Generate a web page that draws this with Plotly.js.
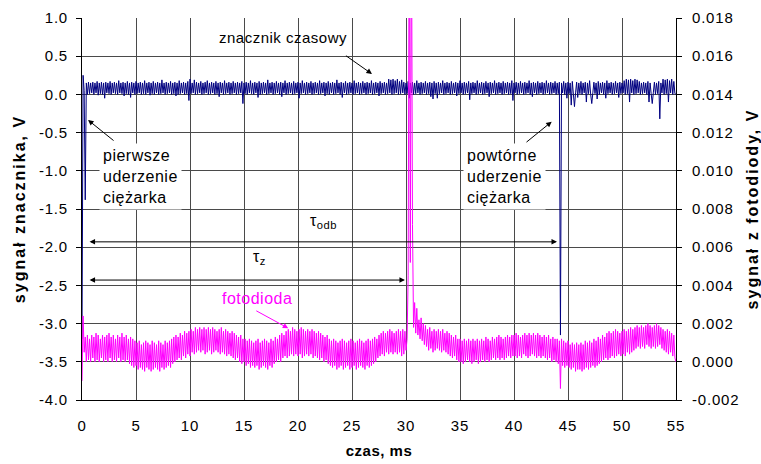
<!DOCTYPE html>
<html>
<head>
<meta charset="utf-8">
<script src="https://cdn.plot.ly/plotly-3.0.1.min.js"></script>
<style>
html,body{margin:0;padding:0;background:#fff;}
#chart{width:761px;height:464px;}
.xtick text, .ytick text, .y2tick text { letter-spacing: 0.8px; }
.ytitle, .y2title { letter-spacing: 2px; }
.xtitle { letter-spacing: 0.5px; }
.annotation-text { letter-spacing: 0.5px; }
</style>
</head>
<body>
<div id="chart"></div>
<script>
// sampling step of the recorded signals (ms)
const sampleStep = 0.1;

// time-marker signal, V (left axis), one row per ms
const znacznik = [
-3.2,0.25,0.05,-1.38,0.15,0.0,0.16,0.01,0.15,0.02,
0.16,0.0,0.15,0.02,0.17,-0.01,0.15,0.01,0.16,0.0,
0.15,-0.05,0.16,0.02,0.15,0.01,0.17,0.0,0.15,0.02,
0.16,0.01,0.15,0.0,0.18,0.02,0.15,0.01,0.16,-0.02,
0.15,0.01,0.17,0.0,0.15,-0.04,0.16,0.02,0.15,0.0,
0.17,0.01,0.15,0.02,0.16,0.0,0.15,0.01,0.18,0.0,
0.15,0.02,0.16,-0.01,0.15,0.01,0.17,0.0,0.15,0.02,
0.16,0.0,0.15,0.01,0.19,0.02,0.15,0.0,0.16,0.01,
0.15,0.02,0.17,0.0,0.15,0.01,0.16,-0.02,0.15,0.0,
0.18,0.01,0.15,0.02,0.16,0.0,0.15,0.01,0.17,-0.08,
0.2,0.01,0.15,0.02,0.19,0.0,0.16,0.01,0.15,0.02,
0.17,0.0,0.15,0.01,0.16,0.02,0.18,0.0,0.15,0.01,
0.16,0.02,0.15,0.0,0.17,0.01,0.15,-0.03,0.16,0.02,
0.15,0.0,0.18,0.01,0.15,0.02,0.16,0.0,0.15,0.01,
0.17,0.02,0.15,0.0,0.16,0.01,0.15,0.02,0.17,-0.12,
0.15,0.01,0.16,0.0,0.15,0.02,0.18,0.01,0.15,0.0,
0.16,0.02,0.15,-0.04,0.17,0.0,0.15,0.01,0.16,0.02,
0.15,0.0,0.19,0.01,0.15,0.02,0.16,0.0,0.15,0.01,
0.17,0.02,0.15,0.0,0.16,-0.03,0.15,0.02,0.18,0.0,
0.15,0.01,0.16,0.02,0.15,0.0,0.17,0.01,0.15,0.02,
0.16,-0.05,0.15,0.01,0.18,0.02,0.15,0.0,0.16,0.01,
0.15,0.02,0.17,0.0,0.15,0.01,0.16,0.02,0.15,0.0,
0.18,0.01,0.15,0.02,0.16,-0.02,0.15,0.01,0.17,0.0,
0.15,0.02,0.16,0.0,0.15,0.01,0.19,0.02,0.15,0.0,
0.16,-0.04,0.15,0.02,0.17,0.0,0.15,0.01,0.16,0.02,
0.15,0.0,0.18,0.01,0.15,0.02,0.16,0.0,0.15,0.01,
0.17,0.02,0.15,0.0,0.16,0.01,0.15,0.02,0.18,0.0,
0.15,0.01,0.16,0.02,0.15,-0.02,0.17,0.01,0.15,0.02,
0.16,0.0,0.15,0.01,0.2,0.02,0.19,0.0,0.2,0.01,
0.18,0.02,0.2,0.0,0.17,0.01,0.19,0.02,0.16,0.0,
0.15,0.01,0.17,-0.05,0.15,0.02,0.16,0.0,0.15,0.01,
0.18,0.02,0.15,0.0,0.16,0.01,0.15,0.02,0.17,0.0,
0.15,0.01,0.16,-0.03,0.15,-0.06,0.17,0.01,0.15,-0.05,
0.16,0.01,0.15,0.02,0.18,0.0,0.15,0.01,0.16,0.02,
0.15,0.0,0.17,0.01,0.15,0.02,0.16,-0.02,0.15,0.01,
0.18,0.02,0.15,0.0,0.16,0.01,0.15,0.02,0.17,-0.07,
0.15,0.01,0.16,0.02,0.15,0.0,0.18,0.01,0.15,0.02,
0.16,0.0,0.15,0.01,0.17,0.02,0.15,-0.03,0.16,0.01,
0.15,0.02,0.18,0.0,0.15,0.01,0.16,0.02,0.15,0.0,
0.17,0.01,0.15,0.02,0.16,0.0,0.15,0.01,0.18,-0.08,
0.15,0.02,0.16,0.0,0.15,0.01,0.17,0.02,0.15,0.0,
0.16,0.01,0.15,0.02,0.18,0.0,0.15,-0.03,0.16,0.02,
0.15,0.0,0.17,0.01,0.15,0.02,0.16,0.0,0.15,0.01,
0.18,0.02,0.15,0.0,0.16,0.01,0.15,0.02,0.17,0.0,
0.15,0.01,0.16,-3.15,0.15,0.02,0.17,0.0,0.15,-0.05,
0.16,0.01,0.15,-0.14,0.17,0.0,-0.16,0.02,0.16,-0.04,
0.15,0.01,0.17,0.0,0.15,0.02,0.16,-0.1,0.15,0.01,
0.18,0.0,-0.12,0.02,0.16,0.01,0.15,-0.06,0.17,0.0,
0.15,0.02,0.16,0.0,0.15,-0.05,0.18,0.01,0.15,0.02,
0.16,0.0,0.15,0.01,0.17,0.02,0.15,-0.04,0.16,0.01,
0.15,0.02,0.18,0.0,0.2,0.01,0.19,-0.1,0.2,0.02,
0.18,0.0,0.2,0.01,0.19,0.02,0.17,0.0,0.15,0.01,
0.16,0.02,0.15,0.0,0.17,-0.1,0.15,0.01,-0.12,0.02,
0.16,0.0,0.15,0.01,0.17,-0.32,0.15,0.02,0.2,0.0,
0.19,0.01,0.2,-0.1,0.18,0.02,0.2,0.0,0.17,0.01,
0.0
];

// photodiode signal, V (right axis), one row per ms
const fotodioda = [
-0.001,0.0024,0.0005,0.0013,0.0,0.0014,0.0001,0.0012,0.0,0.0014,
0.0002,0.0013,0.0,0.0015,0.0001,0.0014,0.0,0.0012,0.0002,0.0014,
0.0,0.0013,0.0001,0.0014,0.0,0.0015,0.0002,0.0013,0.0,0.0014,
0.0001,0.0012,0.0,0.0014,0.0002,0.0013,0.0,0.0015,0.0001,0.0013,
0.0,0.0014,0.0001,0.0012,-0.0001,0.0013,-0.0002,0.0012,-0.0003,0.0011,
-0.0002,0.001,-0.0004,0.0011,-0.0003,0.0009,-0.0004,0.001,-0.0005,0.0011,
-0.0003,0.001,-0.0004,0.0009,-0.0005,0.0011,-0.0004,0.001,-0.0003,0.0009,
-0.0004,0.0011,-0.0005,0.001,-0.0003,0.0009,-0.0004,0.0011,-0.0003,0.001,
-0.0002,0.0011,-0.0003,0.0012,-0.0001,0.0013,0.0,0.0014,0.0001,0.0013,
0.0002,0.0015,0.0001,0.0014,0.0003,0.0016,0.0002,0.0015,0.0004,0.0016,
0.0003,0.0017,0.0005,0.0016,0.0004,0.0018,0.0005,0.0017,0.0006,0.0018,
0.0005,0.0017,0.0006,0.0018,0.0004,0.0017,0.0005,0.0018,0.0006,0.0017,
0.0004,0.0018,0.0005,0.0017,0.0006,0.0016,0.0005,0.0017,0.0004,0.0018,
0.0005,0.0016,0.0004,0.0017,0.0003,0.0016,0.0004,0.0015,0.0003,0.0016,
0.0002,0.0015,0.0001,0.0014,0.0002,0.0013,0.0,0.0014,-0.0001,0.0012,
0.0,0.0012,-0.0002,0.0011,-0.0001,0.0012,-0.0003,0.0011,-0.0002,0.001,
-0.0003,0.0011,-0.0002,0.0012,-0.0004,0.001,-0.0003,0.0011,-0.0002,0.0012,
-0.0003,0.0011,-0.0004,0.001,-0.0002,0.0012,-0.0003,0.0011,-0.0001,0.0013,
0.0,0.0012,0.0001,0.0014,0.0,0.0015,0.0002,0.0014,0.0003,0.0016,
0.0002,0.0017,0.0003,0.0016,0.0004,0.0018,0.0003,0.0017,0.0004,0.0016,
0.0003,0.0017,0.0004,0.0018,0.0002,0.0017,0.0003,0.0016,0.0004,0.0017,
0.0003,0.0016,0.0004,0.0017,0.0002,0.0016,0.0003,0.0015,0.0002,0.0016,
0.0001,0.0015,0.0002,0.0014,0.0,0.0013,0.0001,0.0014,-0.0001,0.0012,
-0.0002,0.0011,-0.0003,0.0012,-0.0002,0.0011,-0.0004,0.001,-0.0003,0.0011,
-0.0002,0.0012,-0.0004,0.0011,-0.0003,0.001,-0.0002,0.0011,-0.0004,0.0012,
-0.0003,0.0011,-0.0002,0.001,-0.0004,0.0011,-0.0003,0.0012,-0.0002,0.0011,
-0.0003,0.001,-0.0004,0.0011,-0.0002,0.0012,-0.0003,0.0011,-0.0002,0.0012,
-0.0001,0.0013,0.0,0.0012,0.0002,0.0014,0.0003,0.0015,0.0004,0.0016,
0.0003,0.0015,0.0005,0.0016,0.0004,0.0017,0.0005,0.0016,0.0004,0.0015,
0.0005,0.0016,0.0004,0.0017,0.0005,0.0016,0.0003,0.0017,0.0004,0.0016,
0.0006,0.0012,0.0045,0.025,0.0052,0.025,0.0072,0.0018,0.0031,0.0015,
0.0028,0.0014,0.0022,0.0012,0.0023,0.0011,0.002,0.0009,0.0019,0.0008,
0.0017,0.0006,0.0018,0.0007,0.0016,0.0005,0.0017,0.0006,0.0016,0.0007,
0.0017,0.0006,0.0016,0.0005,0.0017,0.0006,0.0015,0.0005,0.0016,0.0004,
0.0015,0.0003,0.0014,0.0002,0.0013,0.0003,0.0014,0.0001,0.0012,0.0,
0.0012,0.0,0.0011,-0.0001,0.0012,0.0,0.0011,0.0001,0.0012,0.0,
0.0011,-0.0001,0.0012,0.0,0.0011,0.0001,0.0012,-0.0001,0.0011,0.0,
0.0012,0.0001,0.0011,0.0,0.0013,0.0001,0.0012,0.0,0.0011,0.0001,
0.0013,0.0002,0.0012,0.0001,0.0013,0.0002,0.0014,0.0001,0.0013,0.0002,
0.0012,0.0001,0.0013,0.0002,0.0014,0.0003,0.0013,0.0002,0.0014,0.0003,
0.0014,0.0003,0.0015,0.0002,0.0014,0.0003,0.0013,0.0002,0.0014,0.0004,
0.0015,0.0003,0.0014,0.0002,0.0015,0.0003,0.0014,0.0004,0.0015,0.0003,
0.0014,0.0002,0.0015,0.0003,0.0014,0.0002,0.0013,0.0003,0.0014,0.0002,
0.0013,0.0001,0.0014,0.0002,0.0012,0.0,0.0013,0.0001,0.0012,0.0,
0.0012,-0.0001,0.0011,-0.0014,0.0012,-0.0002,0.0011,-0.0003,0.001,-0.0002,
0.0011,-0.0003,0.0009,-0.0004,0.001,-0.0003,0.0009,-0.0005,0.001,-0.0004,
0.0009,-0.0004,0.001,-0.0005,0.0009,-0.0004,0.0011,-0.0003,0.001,-0.0004,
0.0011,-0.0003,0.001,-0.0002,0.0012,-0.0003,0.0011,-0.0002,0.0013,-0.0001,
0.0012,0.0,0.0014,0.0001,0.0013,0.0002,0.0015,0.0001,0.0016,0.0002,
0.0015,0.0003,0.0016,0.0002,0.0017,0.0003,0.0016,0.0004,0.0015,0.0003,
0.0016,0.0004,0.0017,0.0003,0.0016,0.0005,0.0017,0.0004,0.0018,0.0005,
0.0017,0.0006,0.0018,0.0007,0.0019,0.0008,0.0018,0.0007,0.0019,0.0008,
0.0018,0.0007,0.0019,0.0009,0.002,0.0008,0.0019,0.0007,0.0018,0.0008,
0.0019,0.0007,0.002,0.0008,0.0019,0.0009,0.0018,0.0007,0.0017,0.0006,
0.0016,0.0005,0.0017,0.0004,0.0016,0.0005,0.0015,0.0003,0.0014,0.0002,
0.0
];

// axis ticks and labels
const xTickVals = [0,5,10,15,20,25,30,35,40,45,50,55];
const xTickText = ['0','5','10','15','20','25','30','35','40','45','50','55'];
const yTickVals = [-4,-3.5,-3,-2.5,-2,-1.5,-1,-0.5,0,0.5,1];
const yTickText = ['-4.0','-3.5','-3.0','-2.5','-2.0','-1.5','-1.0','-0.5','0.0','0.5','1.0'];
const y2TickVals = [-0.002,0,0.002,0.004,0.006,0.008,0.010,0.012,0.014,0.016,0.018];
const y2TickText = ['-0.002','0.000','0.002','0.004','0.006','0.008','0.010','0.012','0.014','0.016','0.018'];

const czas = znacznik.map((_, i) => Math.round(i * sampleStep * 10) / 10);

const FONT = 'Liberation Sans, Arial, sans-serif';
const GRID = '#4a4a4a';

const traces = [
  {x: czas, y: znacznik, type: 'scatter', mode: 'lines', yaxis: 'y',
   line: {color: '#000080', width: 1, simplify: false}, hoverinfo: 'skip'},
  {x: czas, y: fotodioda, type: 'scatter', mode: 'lines', yaxis: 'y2',
   line: {color: '#FF00FF', width: 1, simplify: false}, hoverinfo: 'skip'}
];

const arrowBase = {xref: 'x', yref: 'y', axref: 'x', ayref: 'y', text: '', showarrow: true,
  arrowhead: 2, arrowsize: 1.1, arrowwidth: 1, arrowcolor: '#000', standoff: 0, startstandoff: 0};

const annotations = [
  {xref: 'x', yref: 'y', x: 18.6, y: 0.74, text: 'znacznik czasowy', showarrow: false,
   font: {family: FONT, size: 15, color: '#000'}},
  Object.assign({}, arrowBase, {x: 26.85, y: 0.267, ax: 24.3, ay: 0.52}),
  {xref: 'x', yref: 'y', x: 1.55, y: -1.08, xanchor: 'left', yanchor: 'middle', align: 'left',
   text: 'pierwsze<br>uderzenie<br>ciężarka', showarrow: false, bgcolor: '#fff', borderpad: 3,
   font: {family: FONT, size: 16, color: '#000'}},
  Object.assign({}, arrowBase, {x: 0.56, y: -0.335, ax: 3.06, ay: -0.62}),
  {xref: 'x', yref: 'y', x: 35.3, y: -1.07, xanchor: 'left', yanchor: 'middle', align: 'left',
   text: 'powtórne<br>uderzenie<br>ciężarka', showarrow: false, bgcolor: '#fff', borderpad: 3,
   font: {family: FONT, size: 16, color: '#000'}},
  Object.assign({}, arrowBase, {x: 43.49, y: -0.357, ax: 41.02, ay: -0.64}),
  {xref: 'x', yref: 'y', x: 22.4, y: -1.66, text: 'τ<sub>odb</sub>', showarrow: false,
   font: {family: FONT, size: 16, color: '#000'}},
  Object.assign({}, arrowBase, {x: 43.98, y: -1.93, ax: 0.56, ay: -1.93, arrowside: 'end+start', startarrowhead: 2, startarrowsize: 1.1}),
  {xref: 'x', yref: 'y', x: 16.4, y: -2.14, text: 'τ<sub>z</sub>', showarrow: false,
   font: {family: FONT, size: 16, color: '#000'}},
  Object.assign({}, arrowBase, {x: 29.9, y: -2.43, ax: 0.56, ay: -2.43, arrowside: 'end+start', startarrowhead: 2, startarrowsize: 1.1}),
  {xref: 'x', yref: 'y', x: 16.2, y: -2.665, text: 'fotodioda', showarrow: false,
   font: {family: FONT, size: 16, color: '#FF00FF'}},
  Object.assign({}, arrowBase, {x: 19.1, y: -3.061, ax: 16.0, ay: -2.822, arrowcolor: '#FF00FF'})
];

const layout = {
  width: 761, height: 464,
  margin: {l: 82, r: 85, t: 18, b: 64},
  paper_bgcolor: '#fff', plot_bgcolor: '#fff',
  showlegend: false,
  font: {family: FONT, size: 15, color: '#000'},
  xaxis: {
    range: [0, 55], tickmode: 'array', tickvals: xTickVals, ticktext: xTickText,
    showgrid: true, gridcolor: GRID, gridwidth: 1, zeroline: false,
    showline: true, linecolor: '#000', linewidth: 1, ticks: '',
    ticklabelstandoff: 12,
    tickfont: {family: FONT, size: 15, color: '#000'},
    title: {text: '<b>czas, ms</b>', font: {family: FONT, size: 15, color: '#000'}, standoff: 12}
  },
  yaxis: {
    range: [-4, 1], tickmode: 'array', tickvals: yTickVals, ticktext: yTickText,
    showgrid: true, gridcolor: GRID, gridwidth: 1, zeroline: false,
    showline: true, linecolor: '#000', linewidth: 1, ticks: 'outside', ticklen: 5, tickcolor: '#000',
    ticklabelstandoff: 5,
    tickfont: {family: FONT, size: 15, color: '#000'},
    title: {text: '<b>sygnał znacznika, V</b>', font: {family: FONT, size: 16, color: '#000'}, standoff: 9}
  },
  yaxis2: {
    overlaying: 'y', side: 'right', anchor: 'x',
    range: [-0.002, 0.018], tickmode: 'array', tickvals: y2TickVals, ticktext: y2TickText,
    showgrid: false, zeroline: false,
    showline: true, linecolor: '#000', linewidth: 1, ticks: 'outside', ticklen: 5, tickcolor: '#000',
    ticklabelstandoff: 7,
    tickfont: {family: FONT, size: 15, color: '#000'},
    title: {text: '<b>sygnał z fotodiody, V</b>', font: {family: FONT, size: 16, color: '#000'}, standoff: 13}
  },
  annotations: annotations
};

Plotly.newPlot('chart', traces, layout, {staticPlot: true, displayModeBar: false});
</script>
</body>
</html>
